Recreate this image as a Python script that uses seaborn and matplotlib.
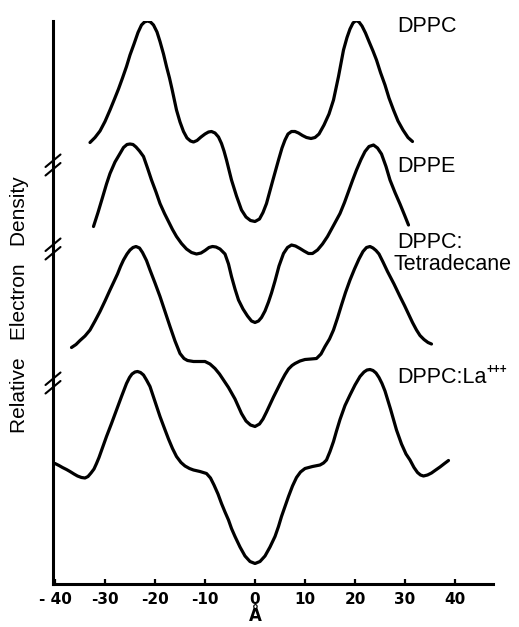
import matplotlib
matplotlib.use("Agg")
import matplotlib.pyplot as plt
import seaborn as sns

# profils de densite electronique (x en Angstrom, densite relative en unites arbitraires)
dppc_x = [-33.0, -32.0, -31.0, -30.0, -29.0, -28.1, -27.3, -26.5, -25.7, -25.0, -24.2, -23.4,
          -22.7, -22.1, -21.5, -20.9, -20.3, -19.6, -19.0, -18.3, -17.7, -17.1, -16.6, -15.7,
          -15.0, -14.3, -13.6, -12.9, -12.3, -11.6, -10.8, -10.0, -9.3, -8.7, -8.0, -7.3,
          -6.7, -6.2, -5.7, -4.7, -3.7, -2.7, -1.8, -0.9, 0.0, 0.9, 1.6, 2.3, 3.5, 4.7, 5.4,
          6.0, 6.6, 7.3, 8.0, 8.7, 9.5, 10.3, 11.2, 12.0, 12.8, 13.8, 14.8, 15.7, 16.7, 17.7,
          18.4, 19.0, 19.6, 20.2, 20.8, 21.4, 22.1, 22.8, 23.6, 24.3, 25.1, 26.0, 26.8, 27.7,
          28.6, 29.6, 30.6, 31.5]
dppc_y = [88.3, 89.3, 90.6, 92.5, 94.8, 97.0, 99.0, 101.2, 103.5, 105.8, 108.0, 110.3,
          111.8, 112.4, 112.6, 112.4, 111.8, 110.4, 108.5, 106.0, 103.5, 101.2, 99.0, 94.8,
          92.4, 90.5, 89.2, 88.6, 88.4, 88.7, 89.4, 90.0, 90.4, 90.5, 90.2, 89.4,
          88.1, 86.6, 84.8, 80.8, 77.6, 74.8, 73.4, 72.7, 72.5, 73.0, 74.3, 76.1, 80.5, 84.8, 87.2,
          88.8, 90.0, 90.5, 90.5, 90.2, 89.7, 89.3, 89.1, 89.3, 90.0, 91.8, 94.0, 96.8, 101.5, 106.8,
          109.3, 111.0, 112.2, 112.7, 112.4, 111.6, 110.2, 108.5, 106.6, 104.8, 102.3, 99.8, 97.2, 94.8,
          92.6, 90.8, 89.3, 88.5]

dppe_x = [-32.3, -31.4, -30.5, -29.7, -29.0, -28.0, -27.0, -26.3, -25.6, -25.0, -24.4, -23.8,
          -23.1, -22.3, -21.5, -20.7, -19.8, -19.0, -18.1, -17.3, -16.5, -15.7, -14.7, -13.7,
          -12.7, -11.7, -10.8, -10.0, -9.2, -8.5, -7.8, -7.0, -6.0, -5.3, -4.7, -4.0, -3.3,
          -2.4, -1.5, -0.7, 0.0, 0.7, 1.3, 2.0, 2.7, 3.3, 4.0, 4.8, 5.7, 6.5, 7.3, 8.1, 9.0,
          9.8, 10.7, 11.5, 12.5, 13.5, 14.5, 15.7, 17.0, 17.9, 18.7, 19.5, 20.3, 21.2, 22.0,
          22.8, 23.7, 24.5, 25.3, 26.2, 27.0, 28.0, 29.0, 29.9, 30.7]
dppe_y = [71.5, 74.3, 77.3, 80.0, 82.1, 84.4, 86.1, 87.3, 87.9, 88.0, 87.9, 87.4,
          86.6, 85.5, 83.2, 80.8, 78.4, 76.1, 74.1, 72.5, 70.9, 69.5, 68.1, 67.0,
          66.3, 66.0, 66.2, 66.7, 67.3, 67.5, 67.4, 67.0, 66.0, 64.0, 61.5, 59.0, 56.8,
          55.0, 53.6, 52.6, 52.3, 52.6, 53.3, 54.6, 56.4, 58.2, 60.6, 63.6, 66.1, 67.3, 67.8, 67.6, 67.1,
          66.6, 66.1, 66.1, 66.8, 68.0, 69.5, 71.7, 74.1, 76.3, 78.5, 80.7, 82.8, 84.9, 86.5,
          87.5, 87.8, 87.2, 86.0, 83.5, 80.8, 78.3, 76.0, 73.8, 71.8]

tetra_x = [-36.7, -35.8, -35.0, -34.0, -33.0, -32.0, -31.0, -30.0, -29.0, -28.2, -27.5, -26.9,
           -26.3, -25.6, -25.0, -24.4, -23.8, -23.1, -22.5, -21.7, -21.0, -20.0, -19.0, -18.0,
           -17.0, -16.0, -15.0, -14.2, -13.5, -12.3, -11.1, -10.0, -9.0, -8.0, -7.1, -6.3,
           -5.3, -4.0, -2.7, -1.8, -0.9, 0.0, 0.9, 1.6, 2.3, 3.0, 3.7, 4.5, 5.3, 6.0, 6.7, 7.4,
           8.0, 9.0, 10.0, 11.2, 12.3, 13.2, 14.0, 14.9, 15.7, 16.5, 17.3, 18.1, 19.0, 19.9,
           20.8, 21.6, 22.3, 23.0, 23.6, 24.2, 24.8, 25.6, 26.5, 27.8, 29.0, 29.9, 30.7, 31.5,
           32.3, 33.0, 33.8, 34.6, 35.3]
tetra_y = [47.3, 47.9, 48.7, 49.6, 50.8, 52.6, 54.5, 56.6, 58.8, 60.5, 62.0, 63.5,
           64.8, 66.0, 66.8, 67.3, 67.5, 67.2, 66.3, 64.7, 62.8, 60.2, 57.5, 54.5,
           51.5, 48.6, 46.1, 45.1, 44.7, 44.5, 44.5, 44.5, 44.0, 43.1, 42.0, 40.8,
           39.3, 37.0, 34.1, 32.6, 31.8, 31.5, 32.0, 33.0, 34.4, 35.9, 37.4, 39.0, 40.6, 41.9, 43.0, 43.7,
           44.1, 44.6, 44.9, 45.0, 45.1, 46.0, 47.5, 49.0, 50.8, 53.2, 55.8, 58.3, 60.8, 63.0,
           65.0, 66.5, 67.3, 67.5, 67.2, 66.7, 66.0, 64.4, 62.5, 60.0, 57.5, 55.7, 54.0, 52.3,
           50.8, 49.7, 48.9, 48.3, 48.0]

la_x = [-40.0, -39.2, -38.5, -37.7, -37.0, -36.2, -35.5, -34.7, -34.0, -33.4, -32.8, -32.2,
        -31.7, -31.2, -30.7, -29.7, -28.7, -27.7, -26.7, -25.7, -25.1, -24.6, -24.0, -23.5,
        -22.9, -22.3, -21.7, -21.0, -20.0, -19.0, -18.1, -17.3, -16.5, -15.7, -14.8, -14.0,
        -13.1, -12.3, -11.0, -9.7, -8.9, -8.2, -7.4, -6.7, -6.0, -5.3, -4.7, -4.0, -3.0,
        -2.0, -1.0, 0.0, 1.0, 2.0, 3.0, 4.0, 4.7, 5.3, 6.0, 6.7, 7.5, 8.3, 9.1, 10.0, 11.5,
        13.0, 13.7, 14.3, 15.0, 15.7, 16.3, 17.0, 18.0, 19.0, 20.0, 21.0, 21.8, 22.4, 23.0,
        23.6, 24.2, 24.8, 25.4, 26.0, 27.1, 28.3, 29.3, 30.2, 31.0, 31.8, 32.5, 33.1, 33.7,
        34.5, 35.3, 36.0, 37.0, 37.9, 38.7]
la_y = [24.1, 23.7, 23.3, 22.9, 22.5, 22.0, 21.6, 21.3, 21.2, 21.5, 22.2, 23.0,
        24.1, 25.3, 26.7, 29.5, 32.1, 34.8, 37.5, 40.1, 41.3, 42.0, 42.4, 42.5,
        42.3, 41.8, 40.8, 39.5, 36.5, 33.5, 31.1, 29.0, 27.1, 25.5, 24.3, 23.6,
        23.1, 22.8, 22.5, 22.1, 21.2, 19.8, 18.0, 16.1, 14.4, 12.8, 11.1, 9.5, 7.4,
        5.6, 4.5, 4.1, 4.5, 5.6, 7.4, 9.5, 11.5, 13.5, 15.5, 17.5, 19.6, 21.3, 22.4, 23.1, 23.5,
        23.8, 24.2, 24.8, 26.5, 28.5, 30.6, 32.9, 35.7, 37.8, 39.8, 41.5, 42.4, 42.8, 42.9,
        42.7, 42.2, 41.3, 40.1, 38.6, 35.0, 30.8, 28.0, 26.0, 24.8, 23.3, 22.3, 21.8, 21.6,
        21.8, 22.2, 22.7, 23.4, 24.1, 24.7]

x_ticks = [-40, -30, -20, -10, 0, 10, 20, 30, 40]
x_ticklabels = ["- 40", "-30", "-20", "-10", "0", "10", "20", "30", "40"]
break_levels = [83.8, 67.0, 40.2]

curves = [(dppc_x, dppc_y), (dppe_x, dppe_y), (tetra_x, tetra_y), (la_x, la_y)]

sns.set_style("ticks")
plt.rcParams["font.family"] = ["Liberation Sans", "DejaVu Sans"]
plt.rcParams["text.color"] = "black"
plt.rcParams["xtick.color"] = "black"

fig = plt.figure(figsize=(5.19, 6.27), dpi=100)
ax = fig.add_axes([53 / 519, 43 / 627, 440 / 519, 563 / 627])

for xs, ys in curves:
    sns.lineplot(x=xs, y=ys, ax=ax, color="black", linewidth=2.3,
                 estimator=None, sort=False, solid_joinstyle="round",
                 solid_capstyle="round")

ax.set_xlim(-40.4, 47.6)
ax.set_ylim(0, 112.6)
sns.despine(ax=ax)
for side in ["left", "bottom"]:
    ax.spines[side].set_color("black")
    ax.spines[side].set_linewidth(2.2)

ax.set_xticks(x_ticks)
ax.set_xticklabels(x_ticklabels, fontweight="bold", family="DejaVu Sans", fontsize=11)
ax.tick_params(axis="x", direction="in", length=3.5, width=1.6, pad=6, colors="black")
ax.set_yticks([])
ax.set_xlabel("")
ax.set_ylabel("")

# marques de coupure sur l'axe vertical
for b in break_levels:
    for off in (-0.85, 0.85):
        ax.plot([-41.9, -38.9], [b + off - 1.25, b + off + 1.25], color="black",
                linewidth=1.5, clip_on=False)

# noms des echantillons
ax.text(28.4, 110.4, "DPPC", fontsize=15.5, ha="left", va="baseline")
ax.text(28.4, 82.4, "DPPE", fontsize=15.5, ha="left", va="baseline")
ax.text(28.4, 67.2, "DPPC:", fontsize=15.5, ha="left", va="baseline")
ax.text(27.6, 62.8, "Tetradecane", fontsize=15.5, ha="left", va="baseline")
t_la = ax.text(28.4, 40.2, "DPPC:La", fontsize=15.5, ha="left", va="baseline")

# exposant +++ colle juste apres "DPPC:La"
fig.canvas.draw()
bb = t_la.get_window_extent()
fig.text((bb.x1 + 0.5) / fig.bbox.width, (bb.y0 + 4 + 11) / fig.bbox.height, "+++",
         fontsize=8.5, fontweight="bold", ha="left", va="baseline")

fig.text(255 / 519, 1 - 625 / 627, "Å", fontweight="bold", family="DejaVu Sans",
         fontsize=12, ha="center", va="bottom")
fig.text(20 / 519, 1 - 305 / 627, "Relative   Electron   Density", rotation=90,
         fontsize=15, ha="center", va="center")

fig.savefig("out.png", dpi=100)
